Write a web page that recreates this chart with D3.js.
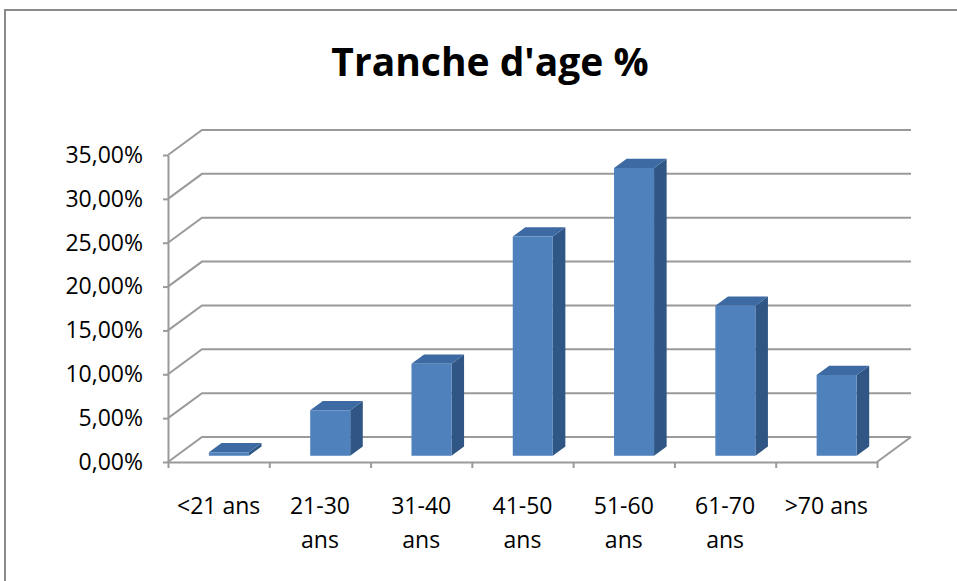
<!DOCTYPE html>
<html>
<head>
<meta charset="utf-8">
<script src="https://cdn.jsdelivr.net/npm/d3@7"></script>
<style>
  body { margin: 0; background: #fff; }
  text { font-family: "Open Sans", sans-serif; fill: #000; }
</style>
</head>
<body>
<div id="chart"></div>
<script>
// data
var categories = ["<21 ans", "21-30 ans", "31-40 ans", "41-50 ans", "51-60 ans", "61-70 ans", ">70 ans"];
var labelLines = [["<21 ans"], ["21-30", "ans"], ["31-40", "ans"], ["41-50", "ans"], ["51-60", "ans"], ["61-70", "ans"], [">70 ans"]];
var values = [0.004, 0.052, 0.105, 0.250, 0.328, 0.171, 0.092];
var yTicks = [0, 0.05, 0.10, 0.15, 0.20, 0.25, 0.30, 0.35];

var width = 957, height = 581;

var opts = {
  left: 168, right: 877, bottom: 462, top: 155,
  depthX: 34, depthY: -25,     // offset of the back wall
  barFront: 0.25, barBack: 0.62, // depth fractions of the columns
  barStart: 0.32, barWidth: 0.395,
  grid: '#9a9a9a',
  front: '#4f81bd', side: '#2f5685', topFace: '#3d6aa2'
};

var svg = d3.select('#chart')
  .append('svg')
  .attr('width', width)
  .attr('height', height);

// outer frame (only top and left are inside the picture)
svg.append('rect')
  .attr('x', 5).attr('y', 10)
  .attr('width', 1000).attr('height', 700)
  .attr('fill', 'none')
  .attr('stroke', '#8a8a8a')
  .attr('stroke-width', 2);

svg.append('text')
  .attr('x', 490).attr('y', 76)
  .attr('text-anchor', 'middle')
  .style('font-size', '39px')
  .style('font-weight', 'bold')
  .text("Tranche d'age %");

var x = d3.scaleBand().domain(categories).range([opts.left, opts.right]);
var y = d3.scaleLinear().domain([0, 0.35]).range([opts.bottom, opts.top]);

// project a point at given depth fraction
function px(xv, d) { return xv + d * opts.depthX; }
function py(yv, d) { return yv + d * opts.depthY; }

// side wall + back wall gridlines
var grid = svg.append('g').attr('class', 'grid');
grid.selectAll('path')
  .data(yTicks)
  .enter().append('path')
    .attr('fill', 'none')
    .attr('stroke', opts.grid)
    .attr('stroke-width', 2)
    .attr('d', function(v) {
      return 'M' + opts.left + ',' + y(v) +
        'L' + px(opts.left, 1) + ',' + py(y(v), 1) +
        'L' + px(opts.right, 1) + ',' + py(y(v), 1);
    });

// right edge of the floor
grid.append('path')
  .attr('fill', 'none')
  .attr('stroke', opts.grid)
  .attr('stroke-width', 2)
  .attr('d', 'M' + opts.right + ',' + y(0) + 'L' + px(opts.right, 1) + ',' + py(y(0), 1));

// columns
var bars = svg.append('g').attr('class', 'bars')
  .selectAll('g')
  .data(categories.map(function(c, i) { return {cat: c, value: values[i]}; }))
  .enter().append('g');

function barGeom(d) {
  var x0 = x(d.cat) + x.bandwidth() * opts.barStart;
  var x1 = x0 + x.bandwidth() * opts.barWidth;
  return {x0: x0, x1: x1, y0: y(0), y1: y(d.value)};
}

function poly(pts) {
  return 'M' + pts.map(function(p) { return p[0] + ',' + p[1]; }).join('L') + 'Z';
}

bars.append('path')
  .attr('fill', opts.side)
  .attr('d', function(d) {
    var g = barGeom(d), f = opts.barFront, b = opts.barBack;
    return poly([[px(g.x1, f), py(g.y0, f)], [px(g.x1, b), py(g.y0, b)],
                 [px(g.x1, b), py(g.y1, b)], [px(g.x1, f), py(g.y1, f)]]);
  });

bars.append('path')
  .attr('fill', opts.topFace)
  .attr('d', function(d) {
    var g = barGeom(d), f = opts.barFront, b = opts.barBack;
    return poly([[px(g.x0, f), py(g.y1, f)], [px(g.x1, f), py(g.y1, f)],
                 [px(g.x1, b), py(g.y1, b)], [px(g.x0, b), py(g.y1, b)]]);
  });

bars.append('path')
  .attr('fill', opts.front)
  .attr('d', function(d) {
    var g = barGeom(d), f = opts.barFront;
    return poly([[px(g.x0, f), py(g.y0, f)], [px(g.x1, f), py(g.y0, f)],
                 [px(g.x1, f), py(g.y1, f)], [px(g.x0, f), py(g.y1, f)]]);
  });

// y axis
var yAxis = svg.append('g')
  .attr('transform', 'translate(' + opts.left + ',0)')
  .call(d3.axisLeft(y)
    .tickValues(yTicks)
    .tickSizeInner(5)
    .tickSizeOuter(0)
    .tickPadding(20)
    .tickFormat(function(d) { return d3.format('.2f')(d * 100).replace('.', ',') + '%'; }));

yAxis.selectAll('text').style('font-size', '23px');

// x axis: ticks at band edges
var edges = d3.scaleLinear().domain([0, categories.length]).range([opts.left, opts.right]);
svg.append('g')
  .attr('transform', 'translate(0,' + opts.bottom + ')')
  .call(d3.axisBottom(edges)
    .tickValues(d3.range(categories.length + 1))
    .tickSizeInner(6)
    .tickSizeOuter(0)
    .tickFormat(''));

// category labels, wrapped on two lines
var xLabels = svg.append('g')
  .attr('transform', 'translate(0,' + opts.bottom + ')')
  .call(d3.axisBottom(x).tickSize(0).tickFormat(''));
xLabels.select('.domain').remove();

xLabels.selectAll('.tick text')
  .style('font-size', '23px')
  .attr('y', 0)
  .attr('dy', null)
  .selectAll('tspan')
  .data(function(d) { return labelLines[categories.indexOf(d)]; })
  .enter().append('tspan')
    .attr('x', 0)
    .attr('y', function(d, i) { return 52 + i * 34; })
    .text(function(d) { return d; });

svg.selectAll('.domain, .tick line')
  .attr('stroke', opts.grid)
  .attr('stroke-width', 2);
</script>
</body>
</html>
